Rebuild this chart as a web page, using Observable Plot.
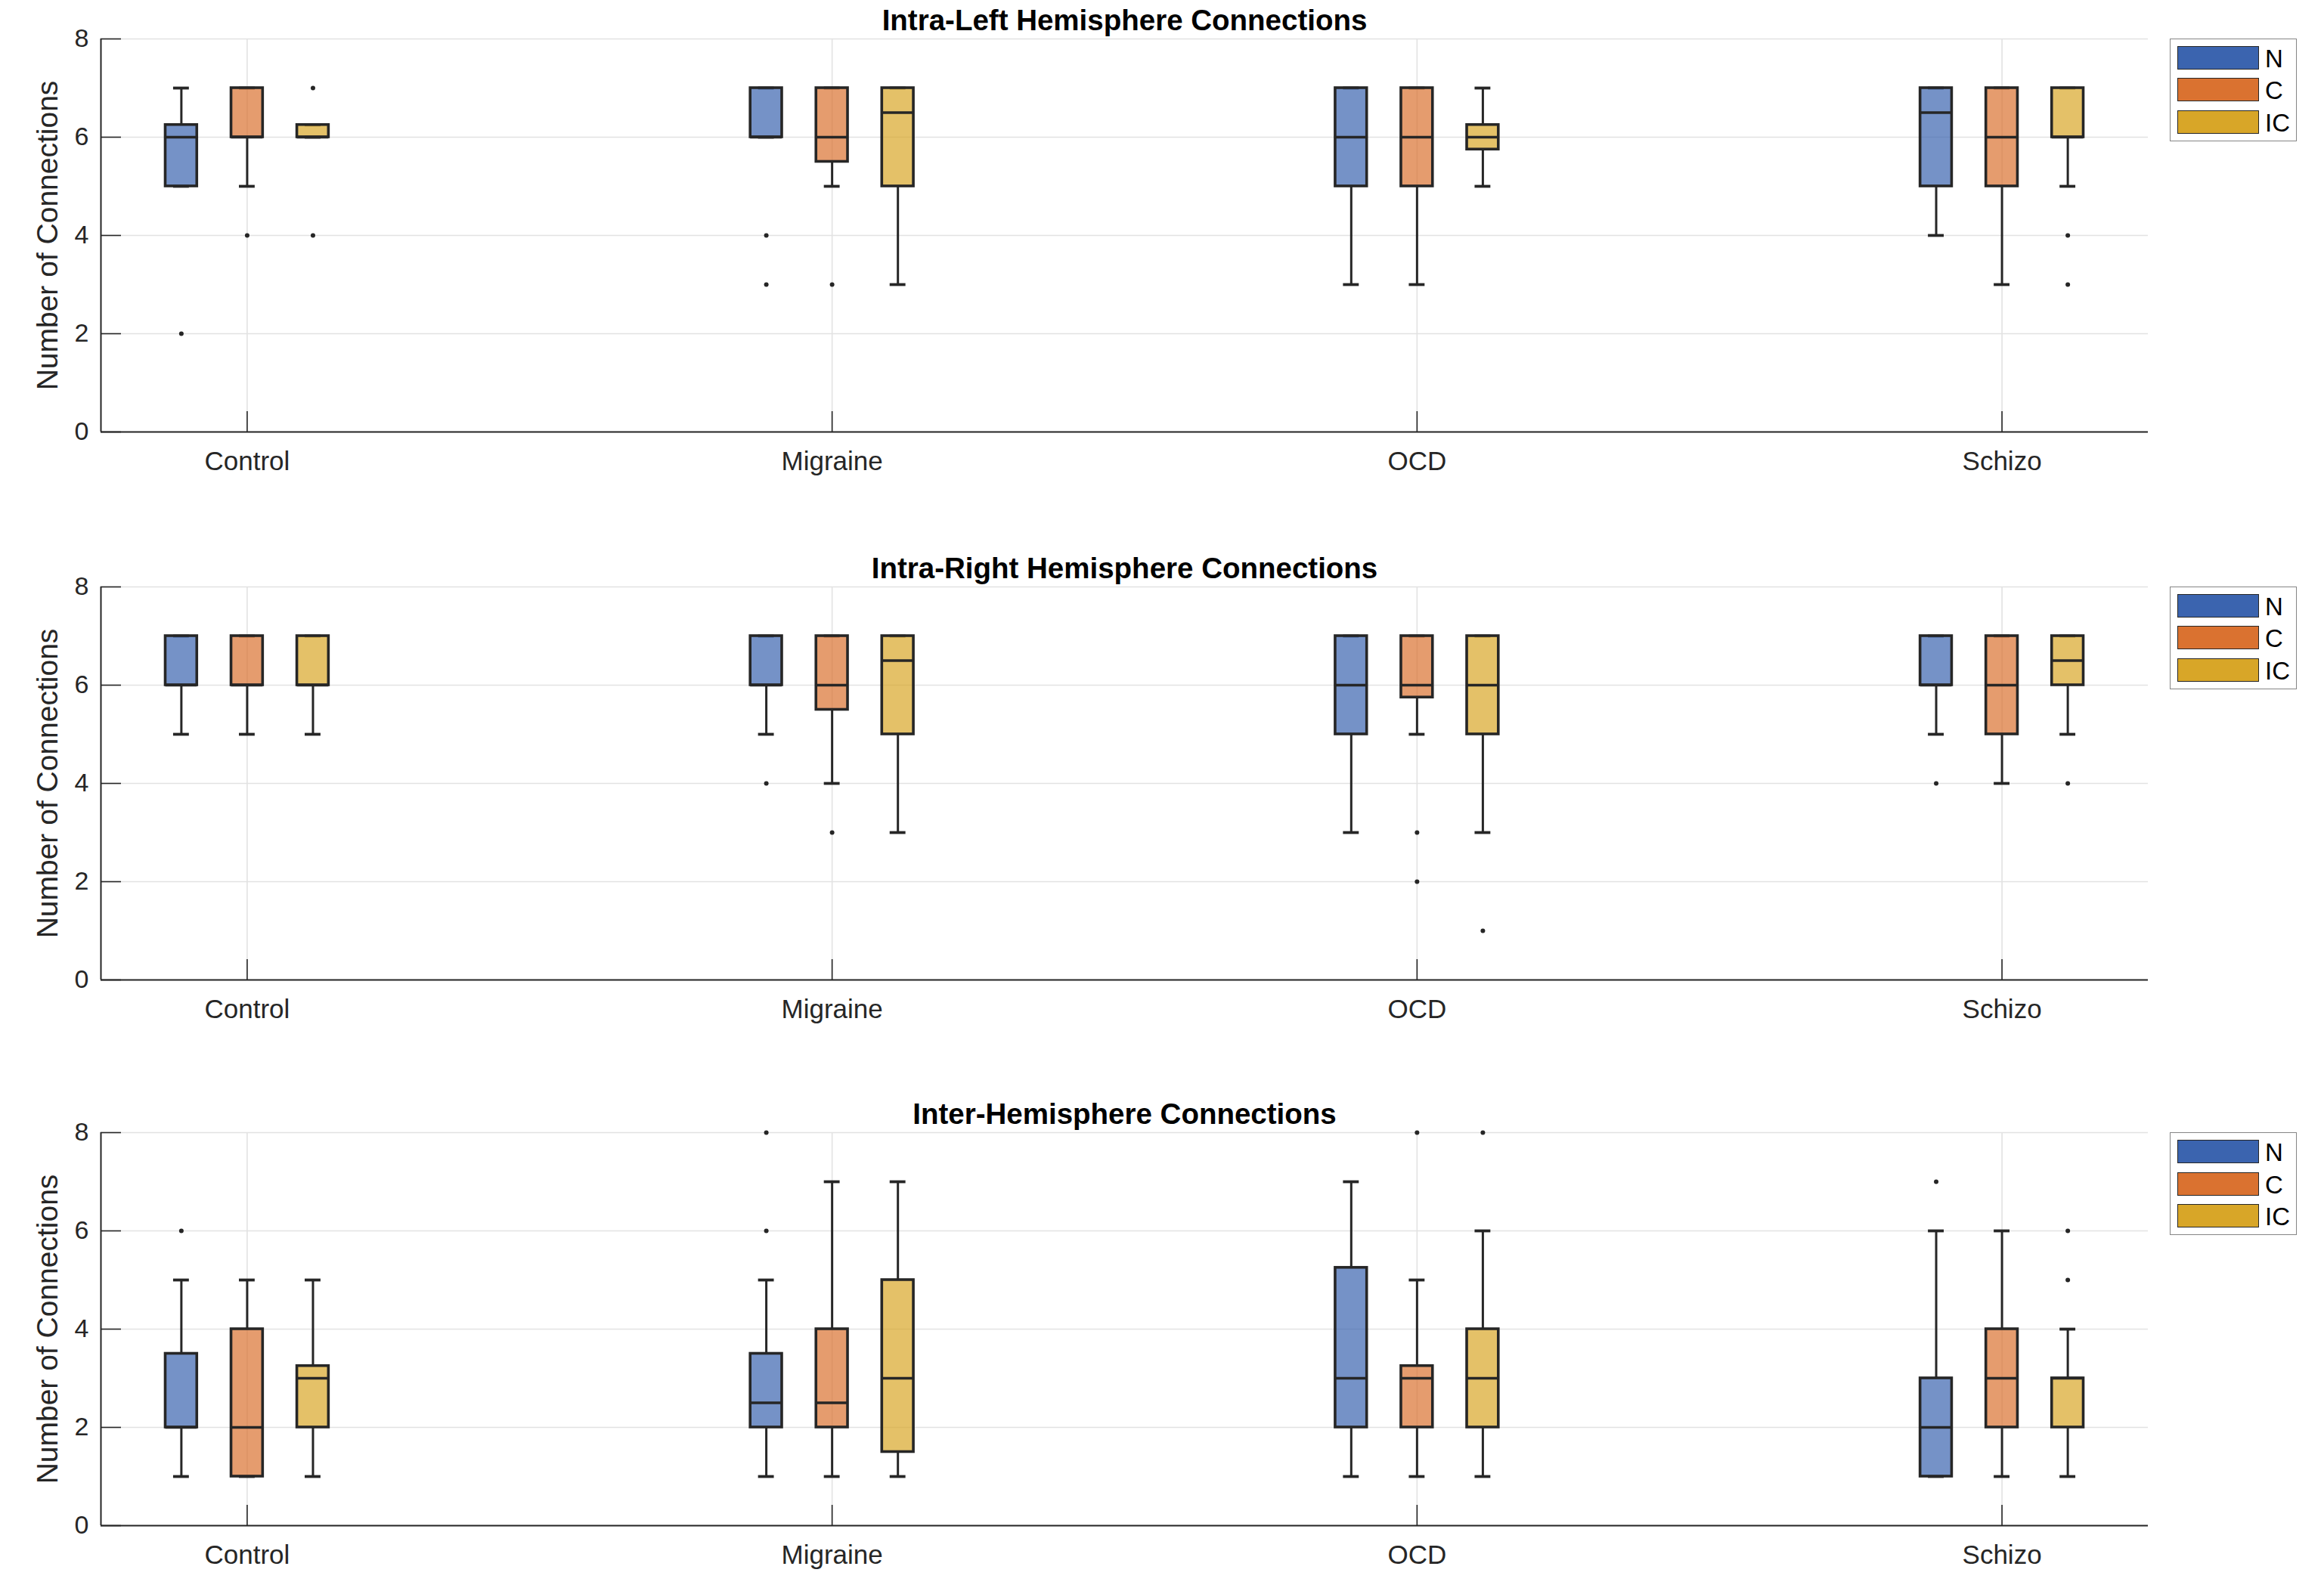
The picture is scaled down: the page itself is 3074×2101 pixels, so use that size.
<!DOCTYPE html>
<html>
<head>
<meta charset="utf-8">
<script src="https://cdn.jsdelivr.net/npm/d3@7"></script>
<script src="https://cdn.jsdelivr.net/npm/@observablehq/plot@0.6"></script>
<style>
  html, body { margin: 0; padding: 0; background: #fff; }
  #root { position: relative; width: 3074px; height: 2101px; overflow: hidden; background: #fff;
          font-family: "Liberation Sans", Arial, Helvetica, sans-serif; }
  .panel { position: absolute; left: 0; }
  .legend { position: absolute; left: 2870px; width: 168px; height: 136px; box-sizing: border-box;
            border: 1.5px solid #858585; background: #fff; }
  .legend .sw { position: absolute; left: 9px; width: 108px; height: 31px; box-sizing: border-box;
                border: 1.5px solid #262626; }
  .legend .lb { position: absolute; left: 125px; font-size: 33px; line-height: 31px; color: #000; }
</style>
</head>
<body>
<div id="root"></div>
<script>
// ---------- data ----------
const categories = ["Control", "Migraine", "OCD", "Schizo"];
const groups = ["N", "C", "IC"];
const groupColors = ["#3b64af", "#da7230", "#d8a628"];
const yTicks = [0, 2, 4, 6, 8];
const yLabel = "Number of Connections";
const titles = [
  "Intra-Left Hemisphere Connections",
  "Intra-Right Hemisphere Connections",
  "Inter-Hemisphere Connections"
];

// [category, group, lower whisker, q1, median, q3, upper whisker, outliers]
const intraLeft = [
  ["Control",  "N",  5, 5,    6,   6.25, 7,    [2]],
  ["Control",  "C",  5, 6,    6,   7,    7,    [4]],
  ["Control",  "IC", 6, 6,    6,   6.25, 6.25, [7, 4]],
  ["Migraine", "N",  6, 6,    6,   7,    7,    [4, 3]],
  ["Migraine", "C",  5, 5.5,  6,   7,    7,    [3]],
  ["Migraine", "IC", 3, 5,    6.5, 7,    7,    []],
  ["OCD",      "N",  3, 5,    6,   7,    7,    []],
  ["OCD",      "C",  3, 5,    6,   7,    7,    []],
  ["OCD",      "IC", 5, 5.75, 6,   6.25, 7,    []],
  ["Schizo",   "N",  4, 5,    6.5, 7,    7,    []],
  ["Schizo",   "C",  3, 5,    6,   7,    7,    []],
  ["Schizo",   "IC", 5, 6,    6,   7,    7,    [4, 3]]
];

const intraRight = [
  ["Control",  "N",  5, 6,    6,   7, 7, []],
  ["Control",  "C",  5, 6,    6,   7, 7, []],
  ["Control",  "IC", 5, 6,    6,   7, 7, []],
  ["Migraine", "N",  5, 6,    6,   7, 7, [4]],
  ["Migraine", "C",  4, 5.5,  6,   7, 7, [3]],
  ["Migraine", "IC", 3, 5,    6.5, 7, 7, []],
  ["OCD",      "N",  3, 5,    6,   7, 7, []],
  ["OCD",      "C",  5, 5.75, 6,   7, 7, [3, 2]],
  ["OCD",      "IC", 3, 5,    6,   7, 7, [1]],
  ["Schizo",   "N",  5, 6,    6,   7, 7, [4]],
  ["Schizo",   "C",  4, 5,    6,   7, 7, []],
  ["Schizo",   "IC", 5, 6,    6.5, 7, 7, [4]]
];

const inter = [
  ["Control",  "N",  1, 2,   2,   3.5,  5, [6]],
  ["Control",  "C",  1, 1,   2,   4,    5, []],
  ["Control",  "IC", 1, 2,   3,   3.25, 5, []],
  ["Migraine", "N",  1, 2,   2.5, 3.5,  5, [6, 8]],
  ["Migraine", "C",  1, 2,   2.5, 4,    7, []],
  ["Migraine", "IC", 1, 1.5, 3,   5,    7, []],
  ["OCD",      "N",  1, 2,   3,   5.25, 7, []],
  ["OCD",      "C",  1, 2,   3,   3.25, 5, [8]],
  ["OCD",      "IC", 1, 2,   3,   4,    6, [8]],
  ["Schizo",   "N",  1, 1,   2,   3,    6, [7]],
  ["Schizo",   "C",  1, 2,   3,   4,    6, []],
  ["Schizo",   "IC", 1, 2,   3,   3,    4, [6, 5]]
];

// ---------- layout ----------
const panels = [intraLeft, intraRight, inter];
const plotTops = [50.7, 775.5, 1498];
const marginTop = 50, marginBottom = 80, plotH = 520;
const xDomain = [0.75, 4.25];
const groupOffset = { N: -0.1125, C: 0, IC: 0.1125 };
const boxHalf = 0.027, capHalf = 0.0135;
const ink = "#262626";
const catTicks = categories.map((c, i) => i + 1);

const root = document.getElementById("root");

panels.forEach((rows, p) => {
  const stats = rows.map(([cat, grp, lo, q1, med, q3, hi, out]) => ({
    cat, grp, lo, q1, med, q3, hi, out,
    x: categories.indexOf(cat) + 1 + groupOffset[grp]
  }));
  const outliers = stats.flatMap(d => d.out.map(v => ({ x: d.x, y: v })));

  const chart = Plot.plot({
    width: 3074,
    height: marginTop + plotH + marginBottom,
    marginLeft: 133,
    marginRight: 233,
    marginTop,
    marginBottom,
    style: { fontFamily: '"Liberation Sans", Arial, Helvetica, sans-serif', background: "transparent", overflow: "visible" },
    x: { domain: xDomain },
    y: { domain: [0, 8] },
    color: { domain: groups, range: groupColors },
    marks: [
      Plot.gridY(yTicks, { stroke: "#e2e2e2", strokeOpacity: 1, strokeWidth: 1.6 }),
      Plot.gridX(catTicks, { stroke: "#e2e2e2", strokeOpacity: 1, strokeWidth: 1.6 }),
      Plot.ruleX(stats, { x: "x", y1: "q3", y2: "hi", stroke: ink, strokeWidth: 3 }),
      Plot.ruleX(stats, { x: "x", y1: "lo", y2: "q1", stroke: ink, strokeWidth: 3 }),
      Plot.ruleY(stats, { y: "hi", x1: d => d.x - capHalf, x2: d => d.x + capHalf, stroke: ink, strokeWidth: 3.8 }),
      Plot.ruleY(stats, { y: "lo", x1: d => d.x - capHalf, x2: d => d.x + capHalf, stroke: ink, strokeWidth: 3.8 }),
      Plot.rect(stats, {
        x1: d => d.x - boxHalf, x2: d => d.x + boxHalf, y1: "q1", y2: "q3",
        fill: "grp", fillOpacity: 0.7, stroke: ink, strokeWidth: 3.6
      }),
      Plot.ruleY(stats, { y: "med", x1: d => d.x - boxHalf, x2: d => d.x + boxHalf, stroke: ink, strokeWidth: 3.6 }),
      Plot.dot(outliers, { x: "x", y: "y", r: 3, fill: ink, stroke: null }),
      Plot.ruleX([xDomain[0]], { stroke: ink, strokeWidth: 2 }),
      Plot.ruleY([0], { stroke: ink, strokeWidth: 2 }),
      Plot.axisY(yTicks, { tickFormat: d3.format("d"), label: null, tickSize: -27, tickPadding: 43, fontSize: 34, color: ink, strokeWidth: 1.6 }),
      Plot.axisX(catTicks, { tickFormat: i => categories[i - 1], label: null, tickSize: -27, tickPadding: 53, fontSize: 35, color: ink, strokeWidth: 1.6 }),
      Plot.text([titles[p]], { frameAnchor: "top", lineAnchor: "middle", textAnchor: "middle", dy: -24, fontSize: 38.5, fontWeight: "bold", fill: "#000" }),
      Plot.text([yLabel], { frameAnchor: "left", textAnchor: "middle", lineAnchor: "middle", rotate: -90, dx: -70, fontSize: 39, fill: ink })
    ]
  });

  const wrap = document.createElement("div");
  wrap.className = "panel";
  wrap.style.top = (plotTops[p] - marginTop) + "px";
  wrap.appendChild(chart);
  root.appendChild(wrap);

  // legend box
  const leg = document.createElement("div");
  leg.className = "legend";
  leg.style.top = plotTops[p] + "px";
  groups.forEach((g, i) => {
    const top = 9 + i * 42.5;
    const sw = document.createElement("div");
    sw.className = "sw";
    sw.style.top = top + "px";
    sw.style.background = groupColors[i];
    const lb = document.createElement("div");
    lb.className = "lb";
    lb.style.top = (top + 1) + "px";
    lb.textContent = g;
    leg.appendChild(sw);
    leg.appendChild(lb);
  });
  root.appendChild(leg);
});
</script>
</body>
</html>
